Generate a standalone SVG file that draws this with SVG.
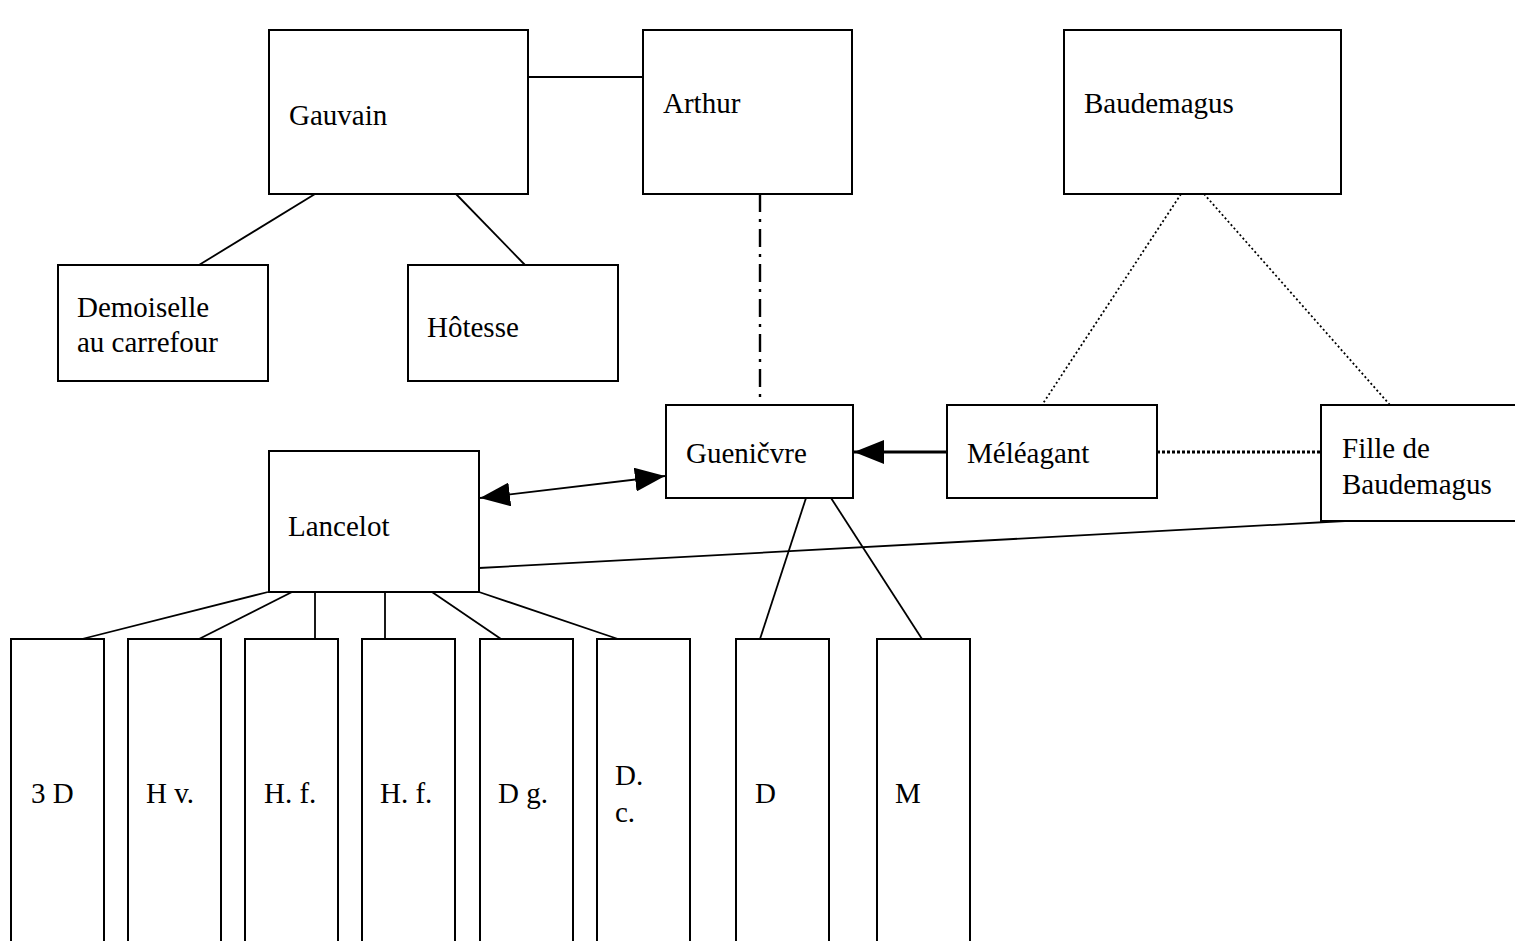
<svg xmlns="http://www.w3.org/2000/svg" width="1515" height="941" viewBox="0 0 1515 941">
<style>
.box{fill:#fff;stroke:#000;stroke-width:2}
.t{font-family:"Liberation Serif","Times New Roman",serif;font-size:29px;fill:#000}
.ln{stroke:#000;stroke-width:1.8;fill:none}
.dd{stroke:#000;stroke-width:2.4;stroke-dasharray:18 7 3 7;fill:none}
.dot{stroke:#000;stroke-width:1.8;stroke-dasharray:2 2.5;fill:none}
.dotb{stroke:#000;stroke-width:3;stroke-dasharray:3 2;fill:none}
</style>
<defs>
<marker id="ah" markerUnits="userSpaceOnUse" markerWidth="32" markerHeight="24" refX="30" refY="12" orient="auto-start-reverse">
<path d="M0,0 L30,12 L0,24 Z" fill="#000"/>
</marker>
</defs>
<rect width="1515" height="941" fill="#fff"/>
<g id="connectors">
<line class="ln" x1="528" y1="77" x2="643" y2="77"/>
<line class="ln" x1="315" y1="194" x2="199" y2="265"/>
<line class="ln" x1="456" y1="194" x2="525" y2="265"/>
<line class="dd" x1="760" y1="194" x2="760" y2="405"/>
<line class="dot" x1="1181" y1="194" x2="1042" y2="405"/>
<line class="dot" x1="1204" y1="194" x2="1390" y2="405"/>
<line class="dotb" x1="1157" y1="452" x2="1321" y2="452"/>
<line stroke="#000" stroke-width="3" x1="947" y1="452" x2="854" y2="452" marker-end="url(#ah)"/>
<line class="ln" x1="480" y1="498" x2="665" y2="476" marker-start="url(#ah)" marker-end="url(#ah)"/>
<line class="ln" x1="479" y1="568" x2="1345" y2="521"/>
<line class="ln" x1="268" y1="592" x2="82" y2="639"/>
<line class="ln" x1="292" y1="592" x2="199" y2="639"/>
<line class="ln" x1="315" y1="592" x2="315" y2="639"/>
<line class="ln" x1="385" y1="592" x2="385" y2="639"/>
<line class="ln" x1="432" y1="592" x2="501" y2="639"/>
<line class="ln" x1="479" y1="592" x2="618" y2="639"/>
<line class="ln" x1="806" y1="498" x2="760" y2="639"/>
<line class="ln" x1="831" y1="498" x2="922" y2="639"/>
</g>
<g id="gauvain"><rect class="box" x="269" y="30" width="259" height="164"/><text class="t" x="289" y="125">Gauvain</text></g>
<g id="arthur"><rect class="box" x="643" y="30" width="209" height="164"/><text class="t" x="663" y="113">Arthur</text></g>
<g id="baudemagus"><rect class="box" x="1064" y="30" width="277" height="164"/><text class="t" x="1084" y="113">Baudemagus</text></g>
<g id="demoiselle"><rect class="box" x="58" y="265" width="210" height="116"/><text class="t" x="77" y="317">Demoiselle</text><text class="t" x="77" y="352">au carrefour</text></g>
<g id="hotesse"><rect class="box" x="408" y="265" width="210" height="116"/><text class="t" x="427" y="337">Hôtesse</text></g>
<g id="guenievre"><rect class="box" x="666" y="405" width="187" height="93"/><text class="t" x="686" y="463">Gueničvre</text></g>
<g id="meleagant"><rect class="box" x="947" y="405" width="210" height="93"/><text class="t" x="967" y="463">Méléagant</text></g>
<g id="fille"><rect class="box" x="1321" y="405" width="200" height="116"/><text class="t" x="1342" y="458">Fille de</text><text class="t" x="1342" y="494">Baudemagus</text></g>
<g id="lancelot"><rect class="box" x="269" y="451" width="210" height="141"/><text class="t" x="288" y="536">Lancelot</text></g>
<g id="b1"><rect class="box" x="11" y="639" width="93" height="310"/><text class="t" x="31" y="803">3 D</text></g>
<g id="b2"><rect class="box" x="128" y="639" width="93" height="310"/><text class="t" x="146" y="803">H v.</text></g>
<g id="b3"><rect class="box" x="245" y="639" width="93" height="310"/><text class="t" x="264" y="803">H. f.</text></g>
<g id="b4"><rect class="box" x="362" y="639" width="93" height="310"/><text class="t" x="380" y="803">H. f.</text></g>
<g id="b5"><rect class="box" x="480" y="639" width="93" height="310"/><text class="t" x="498" y="803">D g.</text></g>
<g id="b6"><rect class="box" x="597" y="639" width="93" height="310"/><text class="t" x="615" y="785">D.</text><text class="t" x="615" y="822">c.</text></g>
<g id="b7"><rect class="box" x="736" y="639" width="93" height="310"/><text class="t" x="755" y="803">D</text></g>
<g id="b8"><rect class="box" x="877" y="639" width="93" height="310"/><text class="t" x="895" y="803">M</text></g>
</svg>
